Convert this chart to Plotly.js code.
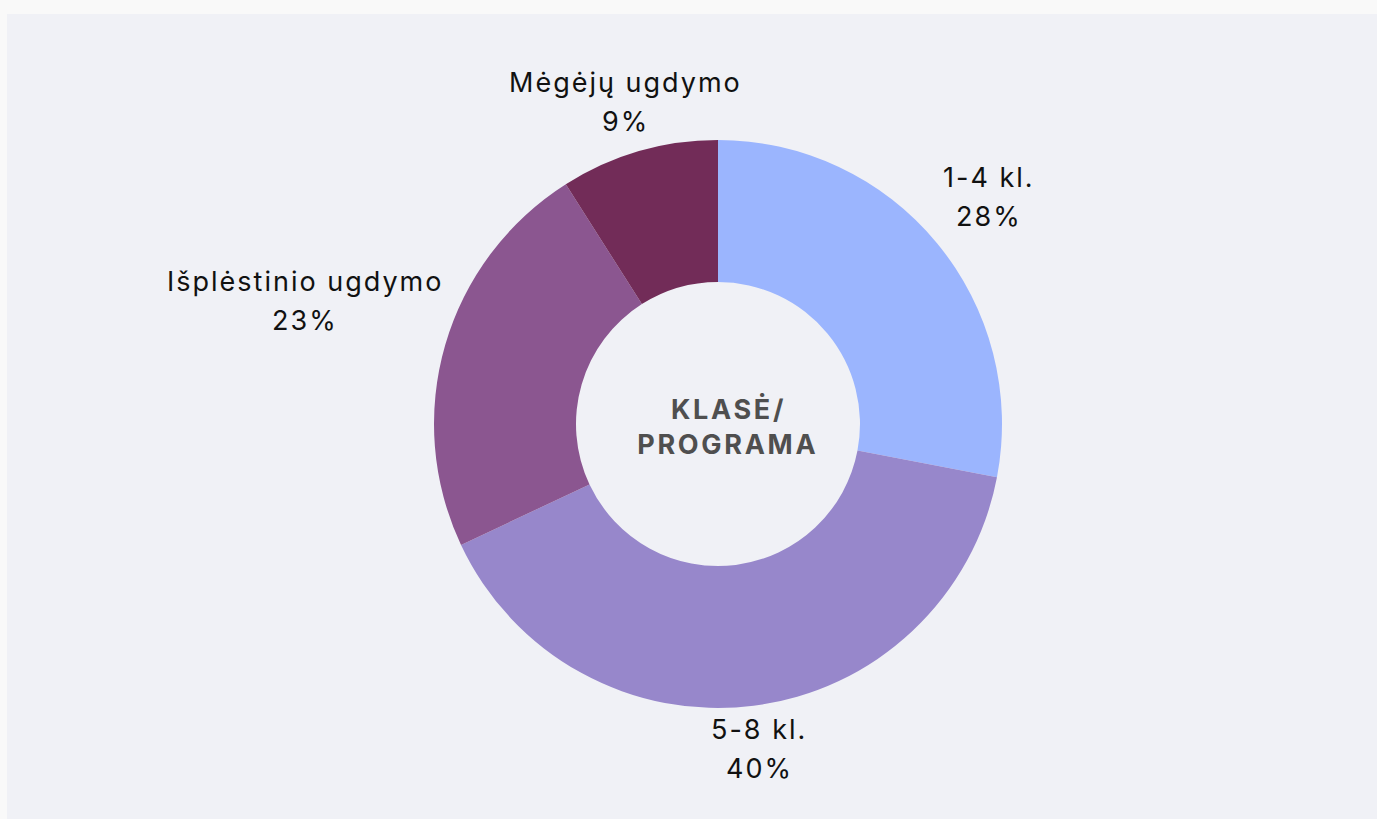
<!DOCTYPE html>
<html>
<head>
<meta charset="utf-8">
<script src="https://cdn.plot.ly/plotly-3.0.1.min.js"></script>
<style>
  html, body { margin: 0; padding: 0; background: #f9f9f9; width: 1377px; height: 819px; overflow: hidden; }
  #chart { position: absolute; left: 7px; top: 14px; width: 1370px; height: 805px; }
  .annotation-text { letter-spacing: 2px; }
  g.annotation[data-index="8"] .annotation-text,
  g.annotation[data-index="9"] .annotation-text { letter-spacing: 2.7px; }
</style>
</head>
<body>
<div id="chart"></div>
<script>
const categories = ["1-4 kl.", "5-8 kl.", "Išplėstinio ugdymo", "Mėgėjų ugdymo"];
const values = [28, 40, 23, 9];
const colors = ["#9bb5fe", "#9787cb", "#8b5690", "#722c58"];
const centerLines = ["KLASĖ/", "PROGRAMA"];

const FONT = "Inter, 'Open Sans', sans-serif";
const LABEL_SIZE = 27;
const LINE_GAP = 38.5;      // px between the two label lines
const SPACING = 2;          // css letter-spacing px
const PLOT_PX = 568;        // pie diameter in px (domain size)
const EDGE_R = 292;         // px from centre to nearest label edge
const LABEL_LIFT = 3;       // small global vertical nudge (px)

const trace = {
  type: "pie",
  labels: categories,
  values: values,
  hole: 0.5,
  sort: false,
  direction: "clockwise",
  rotation: 0,
  marker: { colors: colors, line: { width: 0 } },
  textinfo: "none",
  hoverinfo: "label+percent",
  showlegend: false
};

// measure text widths to place labels on each slice's mid-angle ray
const cv = document.createElement("canvas").getContext("2d");
cv.font = LABEL_SIZE + "px Inter";
try { cv.letterSpacing = SPACING + "px"; } catch (e) {}
function textW(s) { return cv.measureText(s).width; }

const total = values.reduce((a, b) => a + b, 0);
const annotations = [];
let cum = 0;
values.forEach((v, i) => {
  const mid = (cum + v / 2) / total * 2 * Math.PI;
  cum += v;
  const s = Math.sin(mid), c = Math.cos(mid);
  const pct = Math.round(v / total * 100) + "%";
  const hw = Math.max(textW(categories[i]), textW(pct)) / 2;
  const hh = LINE_GAP;
  const t = Math.min(Math.abs(s) > 1e-6 ? hw / Math.abs(s) : 1e9, Math.abs(c) > 1e-6 ? hh / Math.abs(c) : 1e9);
  const r = EDGE_R + t;
  const x = 0.5 + r * s / PLOT_PX;
  const y = 0.5 + r * c / PLOT_PX;
  const common = {
    x: x, y: y, xref: "paper", yref: "paper", showarrow: false,
    xanchor: "center", yanchor: "middle",
    font: { family: FONT, size: LABEL_SIZE, color: "#111111" }
  };
  annotations.push(Object.assign({}, common, { text: categories[i], yshift: LINE_GAP / 2 + LABEL_LIFT }));
  annotations.push(Object.assign({}, common, { text: pct, yshift: -LINE_GAP / 2 + LABEL_LIFT }));
});

centerLines.forEach((line, k) => {
  annotations.push({
    text: line, x: 0.5, y: 0.5, xref: "paper", yref: "paper", showarrow: false,
    xanchor: "center", yanchor: "middle", xshift: 10,
    yshift: (k === 0 ? 1 : -1) * 17.5 - 2.5,
    font: { family: FONT, size: 27, color: "#4f4f4f", weight: 700 }
  });
});

const layout = {
  width: 1370,
  height: 805,
  margin: { l: 427, r: 375, t: 126, b: 111, pad: 0 },
  paper_bgcolor: "#f0f1f6",
  plot_bgcolor: "#f0f1f6",
  showlegend: false,
  annotations: annotations
};

Plotly.newPlot("chart", [trace], layout, { displayModeBar: false, staticPlot: true });
</script>
</body>
</html>
